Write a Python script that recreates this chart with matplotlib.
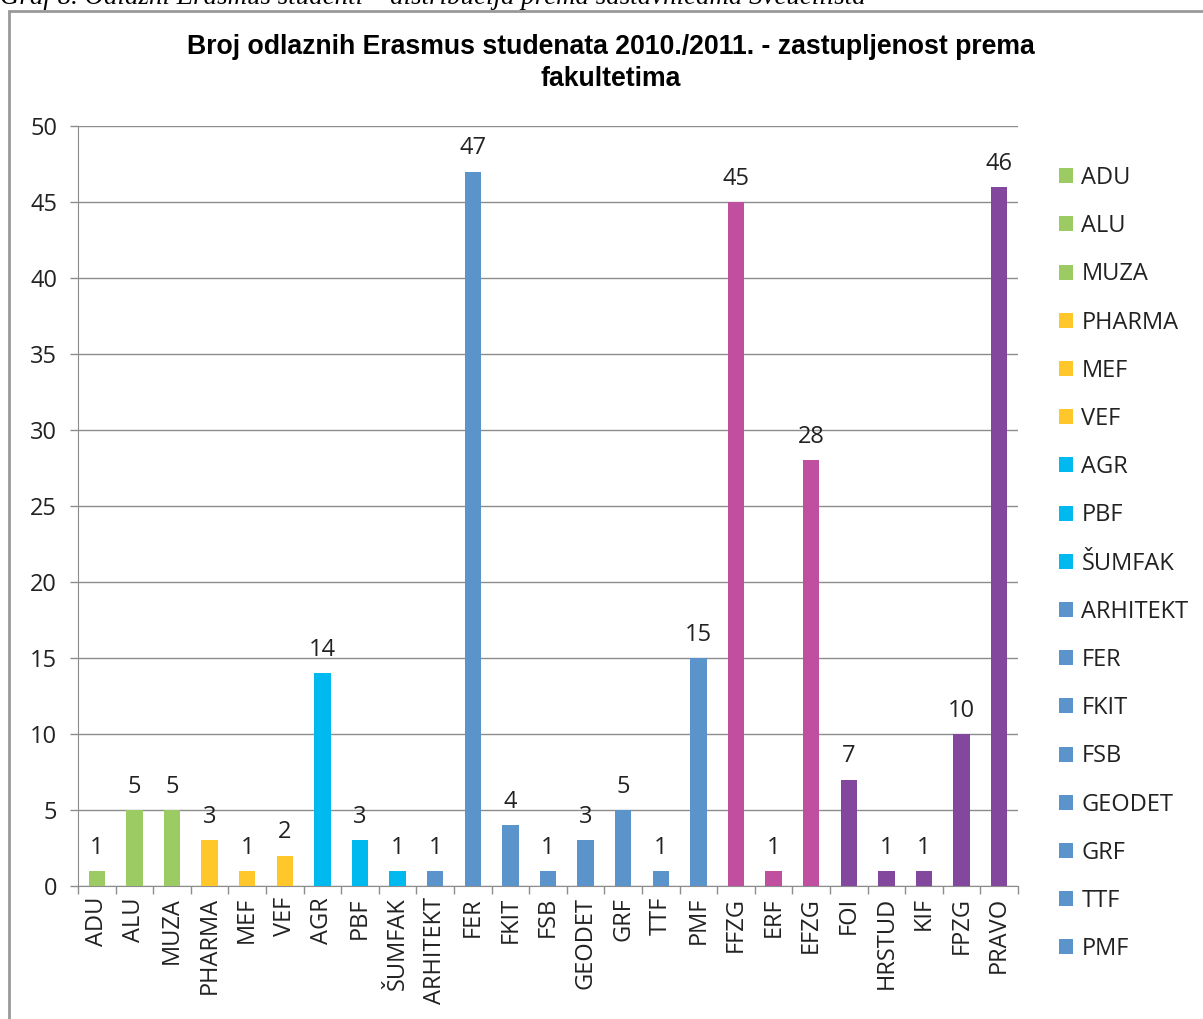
import matplotlib
matplotlib.use("Agg")
import matplotlib.pyplot as plt
from matplotlib.patches import Rectangle

categories = ["ADU", "ALU", "MUZA", "PHARMA", "MEF", "VEF", "AGR", "PBF", "ŠUMFAK",
              "ARHITEKT", "FER", "FKIT", "FSB", "GEODET", "GRF", "TTF", "PMF",
              "FFZG", "ERF", "EFZG", "FOI", "HRSTUD", "KIF", "FPZG", "PRAVO"]
values = [1, 5, 5, 3, 1, 2, 14, 3, 1, 1, 47, 4, 1, 3, 5, 1, 15, 45, 1, 28, 7, 1, 1, 10, 46]
groups = ["g", "g", "g", "y", "y", "y", "c", "c", "c", "b", "b", "b", "b", "b", "b", "b", "b",
          "p", "p", "p", "v", "v", "v", "v", "v"]
group_colors = {"g": "#9BCB62", "y": "#FFC72A", "c": "#00B9EF", "b": "#5B93CB",
                "p": "#C0509F", "v": "#83489D"}
yticks = [0, 5, 10, 15, 20, 25, 30, 35, 40, 45, 50]
n_legend = 17

title = "Broj odlaznih Erasmus studenata 2010./2011. - zastupljenost prema\nfakultetima"
caption = "Graf 8. Odlazni Erasmus studenti – distribucija prema sastavnicama Sveučilišta"

W, H = 1203, 1019
fig = plt.figure(figsize=(W / 100, H / 100), dpi=100)
fig.patch.set_facecolor("white")

gray = "#8C8C8C"
# outer chart frame
fig.patches.append(Rectangle((9 / W, -0.05), 1.1, 1 - 11 / H + 0.05, transform=fig.transFigure,
                             fill=False, edgecolor="#999999", linewidth=2))
fig.text(0 / W, 1 - 4 / H, caption, fontsize=19.4, family="Liberation Serif", style="italic",
         va="baseline", ha="left", color="black")

ax = fig.add_axes([78 / W, 1 - 886 / H, 940 / W, 760 / H])
x = list(range(len(categories)))
colors = [group_colors[g] for g in groups]
bars = ax.bar(x, values, width=0.44, color=colors, zorder=3)

font = "Open Sans"
fs = 17
for xi, v in zip(x, values):
    ax.annotate(str(v), (xi, v), xytext=(0, 8), textcoords="offset points",
                ha="center", va="bottom", fontsize=fs, family=font, color="#222222")

ax.set_xlim(-0.5, len(categories) - 0.5)
ax.set_ylim(0, 50)
ax.set_yticks(yticks)
ax.set_yticklabels([str(t) for t in yticks], fontsize=fs, family=font, color="#222222")
ax.set_xticks(x)
ax.set_xticklabels(categories, rotation=90, fontsize=fs, family=font, color="#222222")
ax.tick_params(axis="x", length=0, pad=8)
ax.tick_params(axis="y", length=6, color=gray, width=1, pad=9)
ax.set_xticks([i - 0.5 for i in range(len(categories) + 1)], minor=True)
ax.tick_params(axis="x", which="minor", length=6, color=gray, width=1)
ax.grid(axis="y", color=gray, linewidth=1, zorder=0)
for s in ["top", "right"]:
    ax.spines[s].set_visible(False)
ax.spines["left"].set_color(gray)
ax.spines["bottom"].set_color(gray)
ax.set_axisbelow(True)

fig.text(611 / W, 1 - 63 / H, title, ha="center", va="center", fontsize=19.2,
         family="Liberation Sans", fontweight="bold", linespacing=1.3)

leg = ax.legend(bars[:n_legend], categories[:n_legend], loc="upper left",
                bbox_to_anchor=(1059 / W, 1 - 166 / H), bbox_transform=fig.transFigure,
                frameon=False, prop={"family": font, "size": fs},
                handlelength=0.6, handleheight=0.6, handletextpad=0.35,
                labelspacing=1.025, borderaxespad=0, borderpad=0)
for t in leg.get_texts():
    t.set_color("#222222")

fig.savefig("out.png", dpi=100)
